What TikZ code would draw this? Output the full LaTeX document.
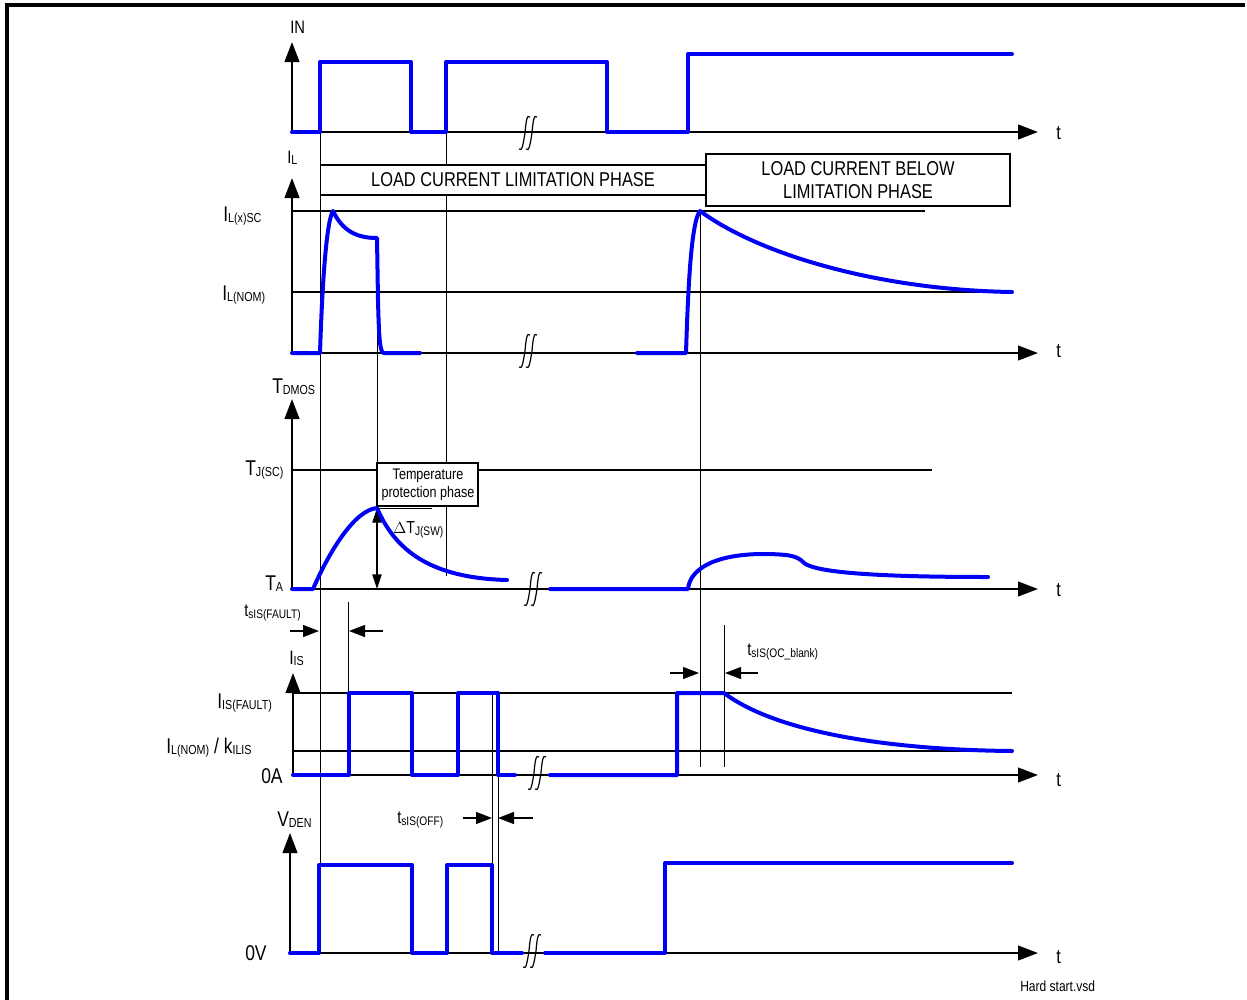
\documentclass[tikz,border=0pt]{standalone}
\usepackage{fontspec}
\setmainfont{Liberation Sans}[FakeStretch=0.82]
\usetikzlibrary{arrows.meta}
\newcommand{\sbs}[1]{\raisebox{-1.2pt}{\fontsize{9.8}{10}\selectfont #1}}
\newcommand{\ssbs}[1]{\raisebox{-1.5pt}{\fontsize{9.3}{10}\selectfont #1}}
\begin{document}
\begin{tikzpicture}[x=0.75pt,y=-0.75pt,
  sig/.style={draw={rgb,255:red,0;green,0;blue,245}, line width=3pt, line join=round, line cap=round},
  axs/.style={line width=1.5pt, -{Triangle[length=15pt,width=11pt]}},
  gline/.style={line width=1.4pt},
  vline/.style={line width=0.75pt},
  sarr/.style={line width=1pt, -{Triangle[length=12pt,width=9pt]}},
  brk/.style={line width=0.9pt},
  lab/.style={inner sep=0pt, anchor=base west, font=\fontsize{16}{18}\selectfont},
  tlab/.style={inner sep=0pt, anchor=base west, font=\fontsize{15}{18}\selectfont},
  boxtxt/.style={inner sep=0pt, align=center, font=\fontsize{15}{17.5}\selectfont}
]
\useasboundingbox (0,0) rectangle (1247,1000);
% frame
\draw[line width=2.3pt] (7,1000) -- (7,5) -- (1245,5);

% break mark
\tikzset{brkmark/.pic={
  \draw[brk] (-7,16) .. controls (-4,19) and (-3,12) .. (-1,0) .. controls (0,-12) and (1,-19) .. (4,-16);
  \draw[brk] (0,16) .. controls (3,19) and (4,12) .. (6,0) .. controls (7,-12) and (8,-19) .. (11,-16);
}}

% ---------- thin vertical lines ----------
\draw[vline] (320,132) -- (320,953);
\draw[vline] (446,132) -- (446,576);
\draw[vline] (377,238) -- (377,508);
\draw[vline] (348,602) -- (348,775);
\draw[vline] (492,693) -- (492,953);
\draw[vline] (498,693) -- (498,953);
\draw[vline] (700,211) -- (700,767);
\draw[vline] (724,625) -- (724,767);

% ---------- IN panel ----------
\node[lab, font=\fontsize{13.5}{16}\selectfont] (lIN) at (290,33) {IN};
\draw[axs] (292,132) -- (292,42);
\draw[axs] (292,132) -- (1038,132);
\node[tlab] (t1) at (1056,139) {t};
\pic at (526,133) {brkmark};
\draw[sig] (292,132) -- (320,132) -- (320,62) -- (411,62) -- (411,132) -- (446,132) -- (446,62) -- (607,62) -- (607,132) -- (688,132) -- (688,54) -- (1012,54);

% ---------- IL panel ----------
\node[lab, font=\fontsize{13.5}{16}\selectfont] (lIL) at (287,163) {I\sbs{L}};
\draw[axs] (292,353) -- (292,178);
\draw[axs] (292,353) -- (1038,353);
\node[tlab] (t2) at (1056,357) {t};
\pic at (526,351) {brkmark};
\fill[white] (321,166) rectangle (705,194);
\draw[gline] (320,165) -- (706,165);
\draw[gline] (320,195) -- (706,195);
\node[boxtxt] (ph1) at (513,180) {LOAD CURRENT LIMITATION PHASE};
\draw[gline, fill=white] (706,154) rectangle (1010,206);
\node[boxtxt] (ph2) at (858,180) {LOAD CURRENT BELOW\\LIMITATION PHASE};
\draw[gline] (292,211) -- (925,211);
\draw[gline] (292,292) -- (1012,292);
\node[lab] (lILSC) at (223,221) {I\sbs{L(x)SC}};
\node[lab] (lILNOM) at (222,300) {I\sbs{L(NOM)}};
\draw[sig] (292,353) -- (320,353) .. controls (322,290) and (326,222) .. (333,211)
  .. controls (343,232) and (358,238) .. (377,238) -- (378,300) .. controls (379,340) and (380,353) .. (384,353) -- (420,353);
\draw[sig] (637,353) -- (686,353) .. controls (688,290) and (691,222) .. (700,211)
  .. controls (760,255) and (880,290) .. (1012,292);

% ---------- T panel ----------
\node[lab] (lT) at (272,393) {T\sbs{DMOS}};
\draw[axs] (292,589) -- (292,399);
\draw[axs] (292,589) -- (1038,589);
\node[tlab] (t3) at (1056,596) {t};
\pic at (531,589) {brkmark};
\draw[gline] (292,470) -- (932,470);
\node[lab] (lTJ) at (245,475) {T\sbs{J(SC)}};
\node[lab] (lTA) at (265,590) {T\sbs{A}};
\draw[line width=1pt, fill=white] (377,463) rectangle (478,506);
\node[boxtxt, font=\fontsize{11.5}{13.5}\selectfont] (tpp) at (428,485) {Temperature\\protection phase};
\draw[vline] (377,508) -- (432,508);
\draw[line width=1.5pt] (353,589) -- (382,589);
\draw[line width=1pt, {Triangle[length=11pt,width=7pt]}-{Triangle[length=11pt,width=7pt]}] (377,508) -- (377,589);
\node[lab, font=\fontsize{13}{15}\selectfont] (dT) at (393,533) {$\Delta$T\ssbs{J(SW)}};
\draw[sig] (292,589) -- (313,589) .. controls (330,550) and (355,510) .. (377,508)
  .. controls (395,550) and (430,578) .. (507,580);
\draw[sig] (550,589) -- (688,589) .. controls (690,570) and (712,555) .. (760,554)
  .. controls (790,554) and (797,556) .. (803,562) .. controls (810,570) and (850,577) .. (988,577);

% ---------- tsIS(FAULT) ----------
\node[lab, font=\fontsize{13.5}{16}\selectfont] (ltf) at (244,616) {t\ssbs{sIS(FAULT)}};
\draw[sarr] (290,631) -- (319,631);
\draw[sarr] (383,631) -- (349,631);

% ---------- IS panel ----------
\node[lab, font=\fontsize{14.5}{16}\selectfont] (lIS) at (289,664) {I\sbs{IS}};
\draw[axs] (293,775) -- (293,673);
\draw[axs] (293,775) -- (1038,775);
\node[tlab] (t4) at (1056,786) {t};
\pic at (535,773) {brkmark};
\draw[gline] (293,693) -- (1012,693);
\draw[gline] (293,751) -- (1012,751);
\node[lab] (lISF) at (217,708) {I\sbs{IS(FAULT)}};
\node[lab] (lk) at (166,753) {I\sbs{L(NOM)} / k\sbs{ILIS}};
\node[lab] (l0A) at (261,783) {0A};
\draw[sig] (293,775) -- (349,775) -- (349,693) -- (412,693) -- (412,775) -- (458,775) -- (458,693) -- (498,693) -- (498,775) -- (515,775);
\draw[sig] (550,775) -- (677,775) -- (677,693) -- (724,693) .. controls (780,735) and (900,750) .. (1012,751);
\node[lab, font=\fontsize{13.5}{16}\selectfont] (lto) at (747,655) {t\ssbs{sIS(OC\_blank)}};
\draw[sarr] (670,673) -- (699,673);
\draw[sarr] (758,673) -- (725,673);

% ---------- tsIS(OFF) ----------
\node[lab, font=\fontsize{13.5}{16}\selectfont] (ltoff) at (397,823) {t\ssbs{sIS(OFF)}};
\draw[sarr] (463,818) -- (492,818);
\draw[sarr] (533,818) -- (498,818);

% ---------- VDEN panel ----------
\node[lab] (lV) at (277,826) {V\sbs{DEN}};
\draw[axs] (290,953) -- (290,833);
\draw[axs] (290,953) -- (1038,953);
\node[tlab] (t5) at (1056,963) {t};
\pic at (530,951) {brkmark};
\node[lab] (l0V) at (245,960) {0V};
\draw[sig] (290,953) -- (319,953) -- (319,865) -- (412,865) -- (412,953) -- (447,953) -- (447,865) -- (492,865) -- (492,953) -- (522,953);
\draw[sig] (545,953) -- (665,953) -- (665,863) -- (1012,863);

\node[lab, font=\fontsize{11}{13}\selectfont] (file) at (1020,991) {Hard start.vsd};
\end{tikzpicture}
\end{document}
